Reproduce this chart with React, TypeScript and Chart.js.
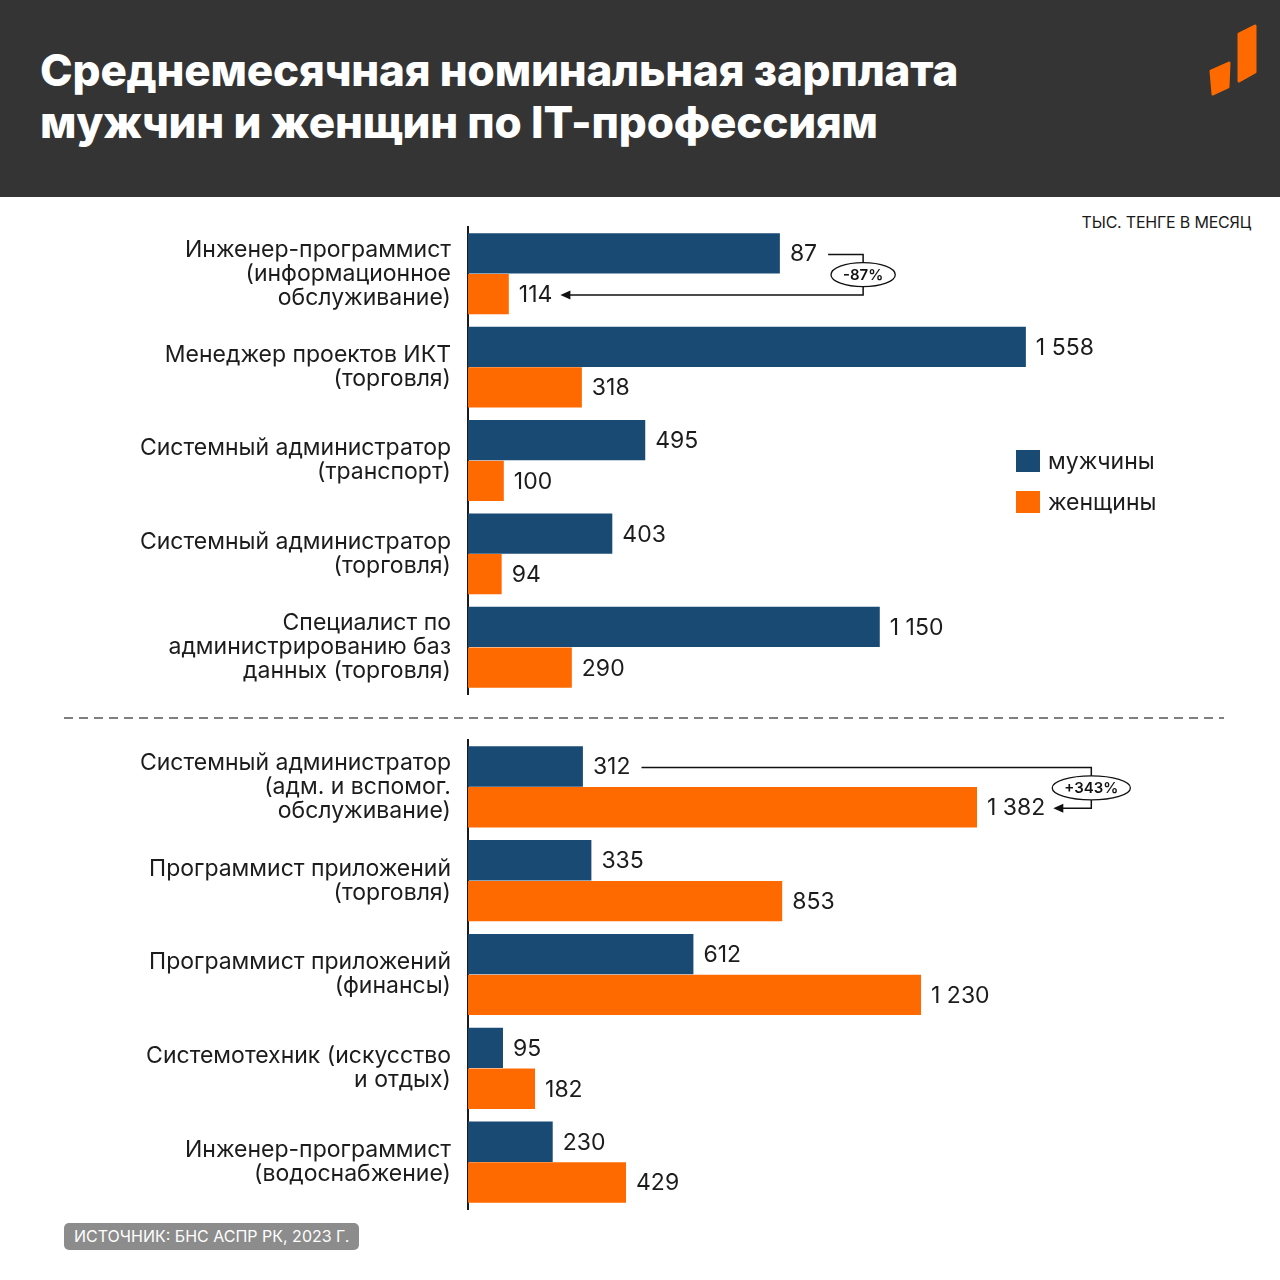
import React, { useEffect, useRef } from "react";
import { Chart, registerables } from "chart.js";

Chart.register(...registerables);

// ---------- data ----------
const upperCategories: string[][] = [
  ["Инженер-программист", "(информационное", "обслуживание)"],
  ["Менеджер проектов ИКТ", "(торговля)"],
  ["Системный администратор", "(транспорт)"],
  ["Системный администратор", "(торговля)"],
  ["Специалист по", "администрированию баз", "данных (торговля)"],
];
const upperMen = [871, 1558, 495, 403, 1150];
const upperWomen = [114, 318, 100, 94, 290];
const upperMenLabels = ["87", "1 558", "495", "403", "1 150"];
const upperWomenLabels = ["114", "318", "100", "94", "290"];
const upperNoteIndex = 0;

const lowerCategories: string[][] = [
  ["Системный администратор", "(адм. и вспомог.", "обслуживание)"],
  ["Программист приложений", "(торговля)"],
  ["Программист приложений", "(финансы)"],
  ["Системотехник (искусство", "и отдых)"],
  ["Инженер-программист", "(водоснабжение)"],
];
const lowerMen = [312, 335, 612, 95, 230];
const lowerWomen = [1382, 853, 1230, 182, 429];
const lowerMenLabels = ["312", "335", "612", "95", "230"];
const lowerWomenLabels = ["1 382", "853", "1 230", "182", "429"];
const lowerNoteIndex = 0;

const seriesNames = ["мужчины", "женщины"];
const titleLines = ["Среднемесячная номинальная зарплата", "мужчин и женщин по IT-профессиям"];
const unitText = "ТЫС. ТЕНГЕ В МЕСЯЦ";
const sourceText = "ИСТОЧНИК: БНС АСПР РК, 2023 Г.";

// ---------- styles ----------
const MEN_COLOR = "#184A74";
const WOMEN_COLOR = "#FF6A00";
const TEXT_COLOR = "#1c1c1c";
const FONT = "Inter, 'Noto Sans', 'DejaVu Sans', sans-serif";

function pctLabel(men: number, women: number) {
  const p = Math.round((women / men - 1) * 100);
  return (p > 0 ? "+" : "") + p + "%";
}

function makeLabelPlugin(menLabels: string[], womenLabels: string[], noteIndex: number) {
  return {
    id: "valueLabels",
    afterDatasetsDraw(chart: any) {
      const ctx = chart.ctx;
      ctx.save();
      ctx.font = `400 23px ${FONT}`;
      ctx.fillStyle = TEXT_COLOR;
      ctx.textBaseline = "middle";
      ctx.textAlign = "left";
      const allLabels = [menLabels, womenLabels];
      chart.data.datasets.forEach((_ds: any, di: number) => {
        const meta = chart.getDatasetMeta(di);
        meta.data.forEach((bar: any, i: number) => {
          ctx.fillText(allLabels[di][i], bar.x + 10, bar.y + 1);
        });
      });

      // difference annotation
      const menBar = chart.getDatasetMeta(0).data[noteIndex];
      const womenBar = chart.getDatasetMeta(1).data[noteIndex];
      const menEnd = menBar.x + 10 + ctx.measureText(menLabels[noteIndex]).width;
      const womenEnd = womenBar.x + 10 + ctx.measureText(womenLabels[noteIndex]).width;
      const bx = Math.max(menEnd, womenEnd) + 46;
      const y1 = menBar.y + 1;
      const y2 = womenBar.y + 1;
      const tip = womenEnd + 8;
      ctx.strokeStyle = "#111";
      ctx.lineWidth = 1.5;
      ctx.beginPath();
      ctx.moveTo(menEnd + 11, y1);
      ctx.lineTo(bx, y1);
      ctx.lineTo(bx, y2);
      ctx.lineTo(tip + 6, y2);
      ctx.stroke();
      ctx.fillStyle = "#111";
      ctx.beginPath();
      ctx.moveTo(tip, y2);
      ctx.lineTo(tip + 10, y2 - 4.5);
      ctx.lineTo(tip + 10, y2 + 4.5);
      ctx.closePath();
      ctx.fill();

      const txt = pctLabel(chart.data.datasets[0].data[noteIndex], chart.data.datasets[1].data[noteIndex]);
      ctx.font = `600 15px ${FONT}`;
      const tw = ctx.measureText(txt).width;
      const cy = (y1 + y2) / 2;
      ctx.beginPath();
      ctx.ellipse(bx, cy, tw / 2 + 12, 12, 0, 0, Math.PI * 2);
      ctx.fillStyle = "#fff";
      ctx.fill();
      ctx.lineWidth = 1.3;
      ctx.stroke();
      ctx.fillStyle = "#111";
      ctx.textAlign = "center";
      ctx.fillText(txt, bx, cy + 1);
      ctx.restore();
    },
  };
}

function BarPanel(props: {
  categories: string[][];
  men: number[];
  women: number[];
  menLabels: string[];
  womenLabels: string[];
  noteIndex: number;
  xMax: number;
  width: number;
  height: number;
  padTop: number;
  padBottom: number;
  style: React.CSSProperties;
}) {
  const ref = useRef<HTMLCanvasElement | null>(null);
  useEffect(() => {
    if (!ref.current) return;
    const chart = new Chart(ref.current, {
      type: "bar",
      data: {
        labels: props.categories,
        datasets: [
          { label: seriesNames[0], data: props.men, backgroundColor: MEN_COLOR },
          { label: seriesNames[1], data: props.women, backgroundColor: WOMEN_COLOR },
        ],
      },
      options: {
        indexAxis: "y",
        animation: false,
        responsive: false,
        maintainAspectRatio: false,
        datasets: { bar: { categoryPercentage: 0.87, barPercentage: 0.99 } },
        layout: { padding: { left: 0, right: 40, top: props.padTop, bottom: props.padBottom } },
        plugins: { legend: { display: false }, tooltip: { enabled: false } },
        scales: {
          x: { display: false, min: 0, max: props.xMax },
          y: {
            afterFit: (scale: any) => {
              scale.width = 468;
              scale.paddingTop = 0;
              scale.paddingBottom = 0;
            },
            ticks: {
              color: TEXT_COLOR,
              padding: 17,
              font: { family: FONT, size: 23, lineHeight: "24px" as any },
            },
            grid: { display: false, drawTicks: false },
            border: { display: true, color: "#1a1a1a", width: 2 },
          },
        },
      } as any,
      plugins: [makeLabelPlugin(props.menLabels, props.womenLabels, props.noteIndex)],
    });
    return () => chart.destroy();
  }, []);
  return <canvas ref={ref} width={props.width} height={props.height} style={{ position: "absolute", width: props.width, height: props.height, ...props.style }} />;
}

export default function App() {
  return (
    <div style={{ position: "absolute", left: 0, top: 0, width: 1280, height: 1280, background: "#fff", overflow: "hidden", fontFamily: FONT }}>
      {/* header */}
      <div style={{ position: "absolute", left: 0, top: 0, width: 1280, height: 197, background: "#343434" }}>
        <div style={{ position: "absolute", left: 40, top: 44, color: "#fff", fontWeight: 800, fontSize: 44, lineHeight: "52px", letterSpacing: "-0.2px" }}>
          {titleLines.map((l, i) => (
            <div key={i}>{l}</div>
          ))}
        </div>
        <svg style={{ position: "absolute", left: 0, top: 0 }} width={1280} height={197}>
          <polygon points="1211,71 1229,63 1228,87 1213,94" fill={WOMEN_COLOR} stroke={WOMEN_COLOR} strokeWidth={3} strokeLinejoin="round" />
          <polygon points="1239,34 1255,26 1255,72 1239,81" fill={WOMEN_COLOR} stroke={WOMEN_COLOR} strokeWidth={3} strokeLinejoin="round" />
        </svg>
      </div>

      <div style={{ position: "absolute", right: 29, top: 212, fontSize: 16, color: "#1a1a1a", letterSpacing: "-0.2px" }}>{unitText}</div>

      <BarPanel
        categories={upperCategories}
        men={upperMen}
        women={upperWomen}
        menLabels={upperMenLabels}
        womenLabels={upperWomenLabels}
        noteIndex={upperNoteIndex}
        xMax={2156}
        width={1280}
        height={510}
        padTop={30}
        padBottom={13}
        style={{ left: 0, top: 197 }}
      />

      <svg style={{ position: "absolute", left: 0, top: 710 }} width={1280} height={16}>
        <line x1={64} y1={8} x2={1224} y2={8} stroke="#555" strokeWidth={1.5} strokeDasharray="9 6" />
      </svg>

      <BarPanel
        categories={lowerCategories}
        men={lowerMen}
        women={lowerWomen}
        menLabels={lowerMenLabels}
        womenLabels={lowerWomenLabels}
        noteIndex={lowerNoteIndex}
        xMax={2096}
        width={1280}
        height={500}
        padTop={10}
        padBottom={21}
        style={{ left: 0, top: 730 }}
      />

      {/* legend */}
      {seriesNames.map((n, i) => (
        <div key={n} style={{ position: "absolute", left: 1016, top: 449 + i * 41, height: 24, display: "flex", alignItems: "center" }}>
          <div style={{ width: 24, height: 22, background: i === 0 ? MEN_COLOR : WOMEN_COLOR }} />
          <span style={{ marginLeft: 8, fontSize: 23, color: TEXT_COLOR, lineHeight: "24px" }}>{n}</span>
        </div>
      ))}

      {/* source */}
      <div style={{ position: "absolute", left: 64, top: 1223, height: 27, padding: "0 10px", background: "#8c8c8c", borderRadius: 5, color: "#fff", fontSize: 16, lineHeight: "27px", whiteSpace: "nowrap" }}>
        {sourceText}
      </div>
    </div>
  );
}
